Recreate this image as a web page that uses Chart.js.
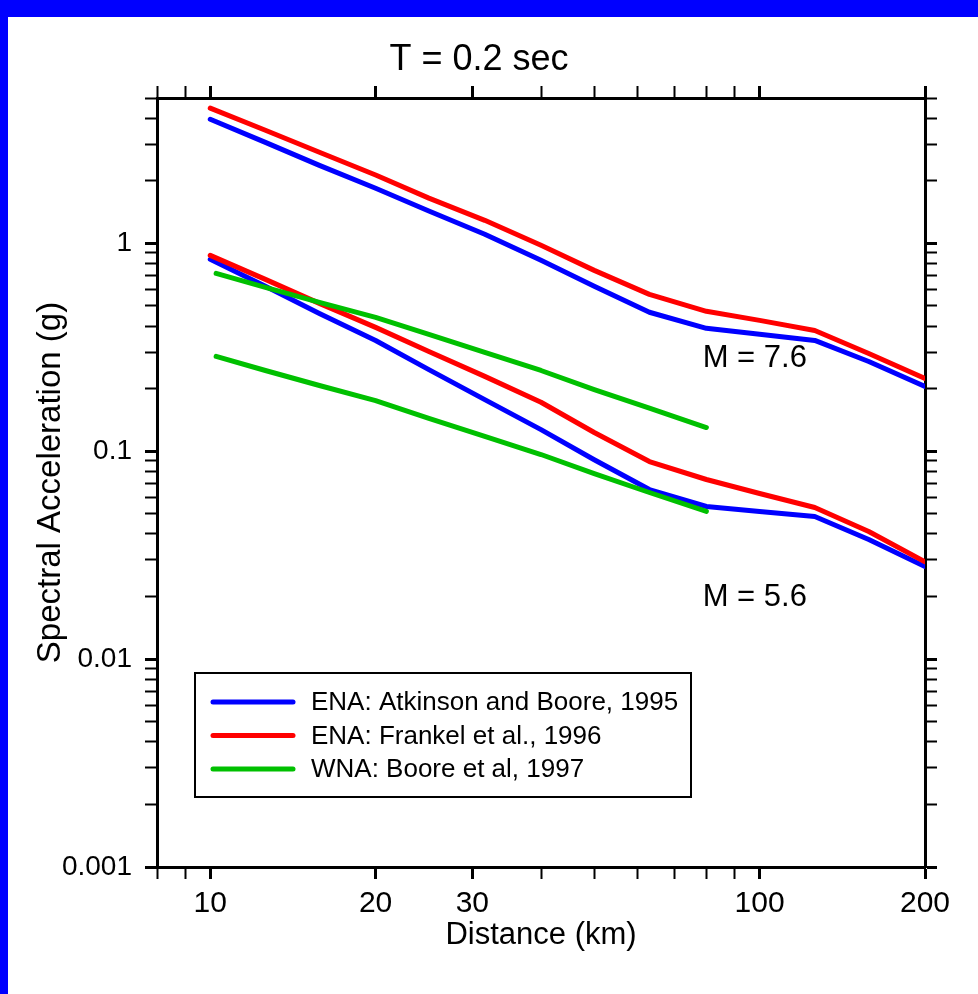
<!DOCTYPE html>
<html>
<head>
<meta charset="utf-8">
<script src="https://cdn.jsdelivr.net/npm/chart.js@4.4.1/dist/chart.umd.min.js"></script>
<style>
  html, body { margin: 0; padding: 0; background: #fff; }
  #frame {
    position: absolute; left: 0; top: 0; width: 978px; height: 994px;
    box-sizing: border-box; border-top: 17px solid #0000ff; border-left: 8px solid #0000ff;
  }
  #chart { position: absolute; left: 0; top: 0; }
</style>
</head>
<body>
<div id="frame"></div>
<canvas id="chart" width="978" height="994"></canvas>
<script>
// Distances (km) and spectral acceleration (g)
const enaDistance = [10, 12.6, 15.8, 20, 25, 31.6, 40, 50, 63, 80, 100, 126, 158, 200];
const ab95M76 = [3.95, 3.06, 2.37, 1.84, 1.43, 1.105, 0.828, 0.621, 0.466, 0.390, 0.365, 0.341, 0.270, 0.205];
const ab95M56 = [0.838, 0.621, 0.460, 0.341, 0.247, 0.177, 0.127, 0.091, 0.0654, 0.0542, 0.0513, 0.0485, 0.0376, 0.0279];
const f96M76 = [4.47, 3.50, 2.74, 2.13, 1.65, 1.29, 0.978, 0.741, 0.568, 0.471, 0.426, 0.381, 0.295, 0.224];
const f96M56 = [0.875, 0.671, 0.514, 0.394, 0.302, 0.229, 0.172, 0.123, 0.0892, 0.0731, 0.0626, 0.0536, 0.0411, 0.0294];
const wnaDistance = [10.25, 12.6, 15.8, 20, 25, 31.6, 40, 50, 63, 80];
const b97M76 = [0.717, 0.614, 0.520, 0.440, 0.365, 0.299, 0.2445, 0.198, 0.161, 0.130];
const b97M56 = [0.286, 0.2445, 0.207, 0.175, 0.144, 0.118, 0.0964, 0.078, 0.0633, 0.0513];

const modelNames = ['ENA: Atkinson and Boore, 1995', 'ENA: Frankel et al., 1996', 'WNA: Boore et al, 1997'];
const modelColors = ['#0000ff', '#ff0000', '#00c000'];

const xTicks = [8, 9, 10, 20, 30, 40, 50, 60, 70, 80, 90, 100, 200];
const xLabels = [10, 20, 30, 100, 200];
const yTicks = [0.001, 0.002, 0.003, 0.004, 0.005, 0.006, 0.007, 0.008, 0.009,
  0.01, 0.02, 0.03, 0.04, 0.05, 0.06, 0.07, 0.08, 0.09,
  0.1, 0.2, 0.3, 0.4, 0.5, 0.6, 0.7, 0.8, 0.9, 1, 2, 3, 4, 5];
const yLabels = [0.001, 0.01, 0.1, 1];

const magLabels = [
  { text: 'M = 7.6', x: 98, y: 0.279 },
  { text: 'M = 5.6', x: 98, y: 0.0198 },
];

const FONT = "'Liberation Sans', Arial, Helvetica, sans-serif";
Chart.defaults.font.family = FONT;
Chart.defaults.color = '#000';

function pts(xs, ys) {
  return xs.map((x, i) => ({ x, y: ys[i] }));
}

function curve(data, model) {
  return {
    data,
    borderColor: modelColors[model],
    borderWidth: 5,
    pointRadius: 0,
    showLine: true,
    tension: 0,
    borderJoinStyle: 'round',
    borderCapStyle: 'round',
    order: 2 - model,
  };
}

function setTicks(values, labeled) {
  return scale => {
    scale.ticks = values.map(v => ({ value: v, major: labeled.includes(v) }));
  };
}

const tickGrid = {
  drawOnChartArea: false,
  drawTicks: true,
  tickLength: 12,
  tickColor: '#000',
  tickWidth: c => (c.tick && c.tick.major ? 3 : 2),
};
const frameBorder = { display: true, color: '#000', width: 3 };

const extras = {
  id: 'extras',
  afterDraw(chart) {
    const { ctx, chartArea: a, scales } = chart;
    ctx.save();
    ctx.fillStyle = '#000';

    // title, a little left of the canvas centre as in the original
    ctx.font = '36px ' + FONT;
    ctx.textAlign = 'center';
    ctx.textBaseline = 'middle';
    ctx.fillText('T = 0.2 sec', a.left + 322, a.top - 38);

    ctx.font = '31px ' + FONT;
    magLabels.forEach(m => {
      ctx.fillText(m.text, scales.x.getPixelForValue(m.x), scales.y.getPixelForValue(m.y));
    });

    // legend box
    const left = a.left + 38, top = a.top + 575, w = 496, h = 124;
    ctx.strokeStyle = '#000';
    ctx.lineWidth = 2;
    ctx.strokeRect(left, top, w, h);
    ctx.font = '26px ' + FONT;
    ctx.textAlign = 'left';
    modelNames.forEach((name, i) => {
      const yy = top + 29 + i * 33.5;
      ctx.strokeStyle = modelColors[i];
      ctx.lineWidth = 5;
      ctx.lineCap = 'round';
      ctx.beginPath();
      ctx.moveTo(left + 18, yy);
      ctx.lineTo(left + 98, yy);
      ctx.stroke();
      ctx.fillText(name, left + 116, yy + 1);
    });
    ctx.restore();
  },
};

new Chart(document.getElementById('chart'), {
  type: 'scatter',
  data: {
    datasets: [
      curve(pts(enaDistance, ab95M76), 0),
      curve(pts(enaDistance, ab95M56), 0),
      curve(pts(enaDistance, f96M76), 1),
      curve(pts(enaDistance, f96M56), 1),
      curve(pts(wnaDistance, b97M76), 2),
      curve(pts(wnaDistance, b97M56), 2),
    ],
  },
  options: {
    responsive: false,
    animation: false,
    layout: { padding: 0, autoPadding: false },
    plugins: {
      legend: { display: false },
      tooltip: { enabled: false },
      title: { display: false },
    },
    scales: {
      x: {
        type: 'logarithmic', position: 'bottom', min: 8, max: 200,
        afterBuildTicks: setTicks(xTicks, xLabels),
        afterFit: s => { s.height = 127; },
        ticks: {
          autoSkip: false, maxRotation: 0, padding: 7, font: { size: 30 },
          callback: v => (xLabels.includes(v) ? String(v) : ''),
        },
        grid: tickGrid,
        border: frameBorder,
        title: { display: true, text: 'Distance (km)', font: { size: 31 }, padding: { top: 0, bottom: 40 } },
      },
      x2: {
        type: 'logarithmic', position: 'top', min: 8, max: 200,
        afterBuildTicks: setTicks(xTicks, xLabels),
        afterFit: s => { s.height = 98; },
        ticks: { display: false },
        grid: tickGrid,
        border: frameBorder,
      },
      y: {
        type: 'logarithmic', position: 'left', min: 0.001, max: 5,
        afterBuildTicks: setTicks(yTicks, yLabels),
        afterFit: s => { s.width = 157; },
        ticks: {
          autoSkip: false, padding: 13, font: { size: 28 },
          callback: v => (yLabels.includes(v) ? String(v) : ''),
        },
        grid: tickGrid,
        border: frameBorder,
        title: { display: true, text: 'Spectral Acceleration (g)', font: { size: 33 }, padding: { top: 31, bottom: 0 } },
      },
      y2: {
        type: 'logarithmic', position: 'right', min: 0.001, max: 5,
        afterBuildTicks: setTicks(yTicks, yLabels),
        afterFit: s => { s.width = 53; },
        ticks: { display: false },
        grid: tickGrid,
        border: frameBorder,
      },
    },
  },
  plugins: [extras],
});
</script>
</body>
</html>
